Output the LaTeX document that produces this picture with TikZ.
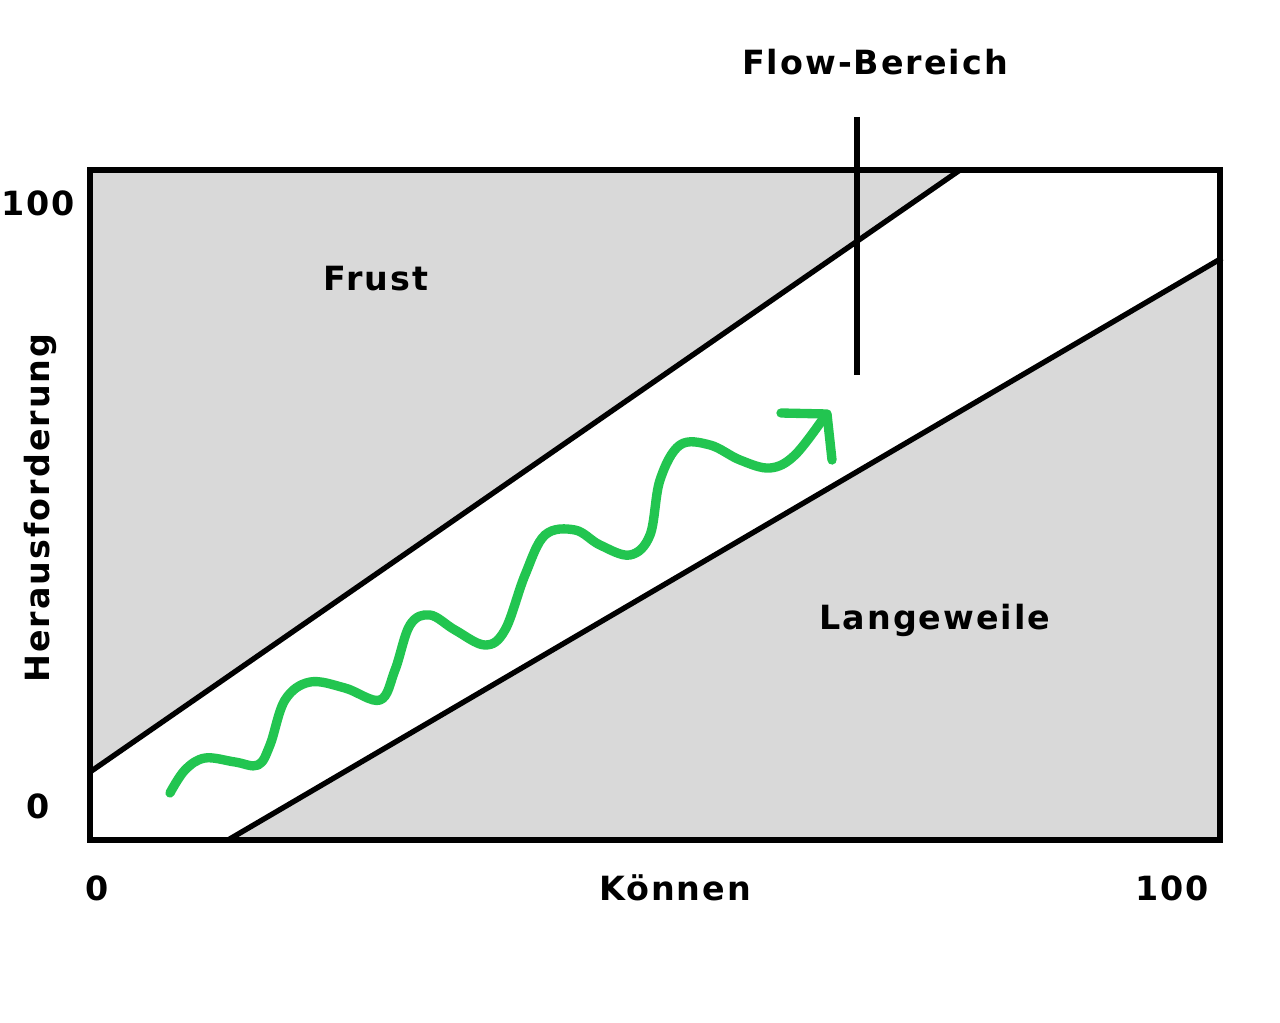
\documentclass[tikz,border=0pt]{standalone}
\usepackage{fontspec}
\setmainfont{DejaVu Sans}[LetterSpace=6]
\begin{document}
\begin{tikzpicture}[x=0.75pt,y=-0.75pt,
  lbl/.style={font=\bfseries\fontsize{25}{30}\selectfont,inner sep=0pt},
  ln/.style={line width=4pt,black}]
\useasboundingbox (0,0) rectangle (1280,1023);
\fill[white] (0,0) rectangle (1280,1023);
\fill[gray!30] (90,170) -- (960,170) -- (90,772) -- cycle;
\fill[gray!30] (228,840) -- (1220,258) -- (1220,840) -- cycle;
\draw[ln] (90,772) -- (960,170);
\draw[ln] (228,840) -- (1222,258);
\draw[ln] (90,170) rectangle (1220,840);
\coordinate (t1) at (857,117); \coordinate (t2) at (857,375);
\draw[ln] (t1) -- (t2);
\node[lbl] (flow) at (875,62) {Flow-Bereich};
\node[lbl] (frust) at (376,279) {Frust};
\node[lbl] (lang) at (935,620) {Langeweile};
\node[lbl,rotate=90] (hf) at (40,508) {Herausforderung};
\node[lbl] (y100) at (38,203) {100};
\node[lbl] (y0) at (38,806) {0};
\node[lbl] (x0) at (97,888) {0};
\node[lbl] (kn) at (675,888) {Können};
\node[lbl] (x100) at (1172,888) {100};
\definecolor{fg}{RGB}{34,197,80}
\draw[fg,line width=7pt,line cap=round,line join=round] plot[smooth,tension=0.6] coordinates {
(170,793) (185,770) (205,758) (235,762) (258,765) (270,745) (285,700) (310,682) (345,688) (380,700) (395,670) (410,625) (430,615) (455,630) (485,645) (505,630) (525,575) (545,535) (575,530) (600,545) (630,555) (650,535) (660,480) (680,445) (710,445) (740,460) (770,468) (795,455) (825,416)};
\coordinate (ah) at (827,414);
\draw[fg,line width=7pt,line cap=round,line join=round] (781,413) -- (ah) -- (832,460);
\end{tikzpicture}
\end{document}
